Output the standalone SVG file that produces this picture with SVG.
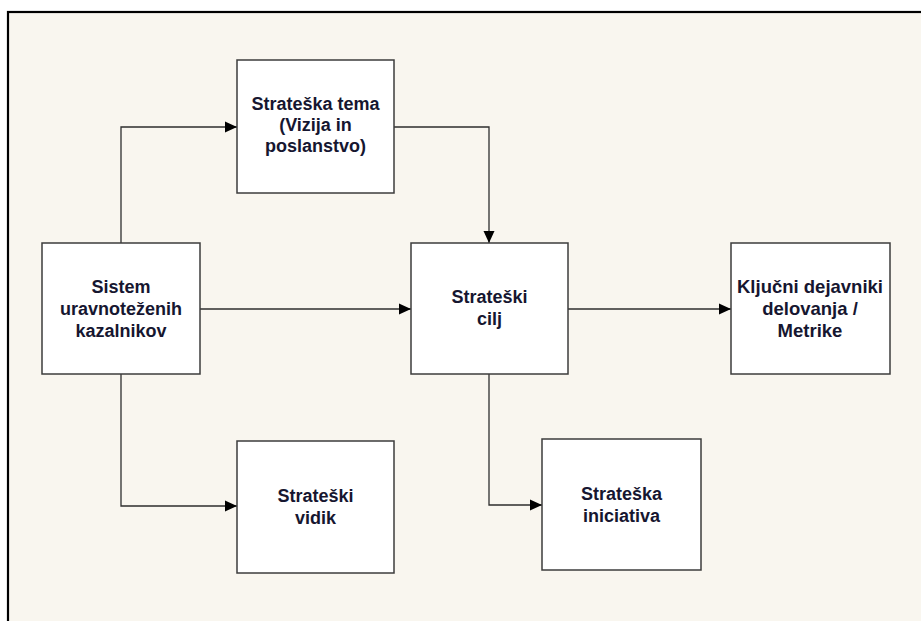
<svg xmlns="http://www.w3.org/2000/svg" width="921" height="621" viewBox="0 0 921 621">
  <style>
    .node rect { fill: #ffffff; stroke: #3c3c3c; stroke-width: 1.5; }
    .node text { font-family: "Liberation Sans", Arial, sans-serif; font-weight: bold; font-size: 18px; fill: #161630; text-anchor: middle; }
    #kljucni text { font-size: 18.5px; }
    .edge { fill: none; stroke: #2e2e2e; stroke-width: 1.3; marker-end: url(#arrow); }
  </style>
  <defs>
    <marker id="arrow" markerUnits="userSpaceOnUse" markerWidth="12" markerHeight="12" viewBox="0 0 12 12" refX="12" refY="6" orient="auto">
      <path d="M0,0.5 L12,6 L0,11.5 Z" fill="#000000"/>
    </marker>
  </defs>

  <!-- page and frame -->
  <rect x="0" y="0" width="921" height="621" fill="#ffffff"/>
  <rect x="8" y="12" width="925" height="620" fill="#f9f6ef" stroke="#000000" stroke-width="2.2"/>

  <!-- connectors -->
  <g id="connectors">
    <path class="edge" d="M121,243 V127 H237"/>
    <path class="edge" d="M121,374 V506 H237"/>
    <path class="edge" d="M200,309 H411"/>
    <path class="edge" d="M394,127 H489 V243"/>
    <path class="edge" d="M568,309 H731"/>
    <path class="edge" d="M489,374 V505 H542"/>
  </g>

  <!-- nodes -->
  <g id="sistem" class="node">
    <rect x="42" y="243" width="158" height="131"/>
    <text x="121" y="293">Sistem</text>
    <text x="121" y="315">uravnoteženih</text>
    <text x="121" y="337">kazalnikov</text>
  </g>
  <g id="tema" class="node">
    <rect x="237" y="60" width="157" height="133"/>
    <text x="315.5" y="110">Strateška tema</text>
    <text x="315.5" y="131">(Vizija in</text>
    <text x="315.5" y="152">poslanstvo)</text>
  </g>
  <g id="cilj" class="node">
    <rect x="411" y="243" width="157" height="131"/>
    <text x="489.5" y="303">Strateški</text>
    <text x="489.5" y="325">cilj</text>
  </g>
  <g id="kljucni" class="node">
    <rect x="731" y="243" width="159" height="131"/>
    <text x="810" y="293">Ključni dejavniki</text>
    <text x="810" y="315">delovanja /</text>
    <text x="810" y="337">Metrike</text>
  </g>
  <g id="vidik" class="node">
    <rect x="237" y="441" width="157" height="132"/>
    <text x="315.5" y="502">Strateški</text>
    <text x="315.5" y="524">vidik</text>
  </g>
  <g id="iniciativa" class="node">
    <rect x="542" y="439" width="159" height="131"/>
    <text x="621.5" y="500">Strateška</text>
    <text x="621.5" y="522">iniciativa</text>
  </g>
</svg>
